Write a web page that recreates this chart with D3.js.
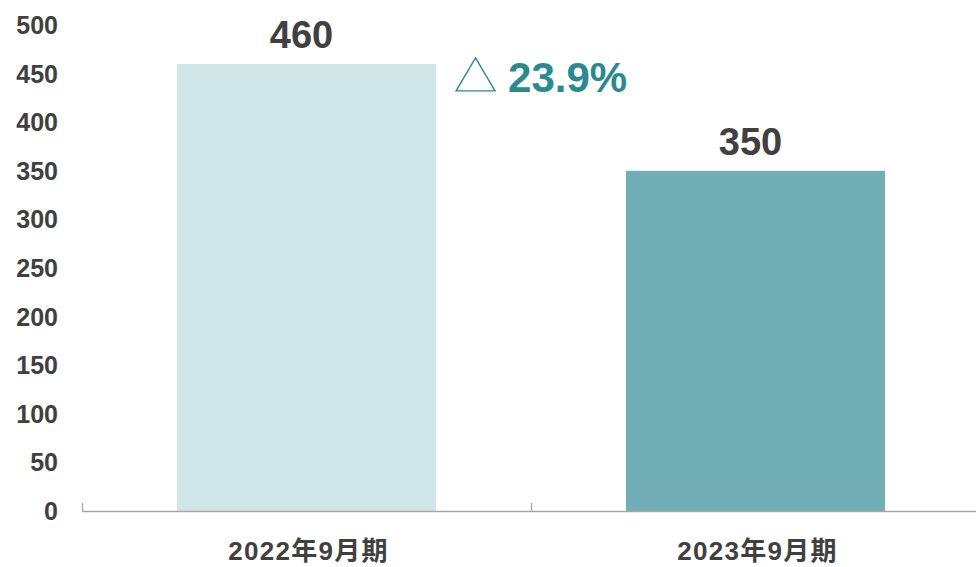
<!DOCTYPE html>
<html>
<head>
<meta charset="utf-8">
<script src="https://cdn.jsdelivr.net/npm/d3@7"></script>
<style>
  body { margin: 0; background: #fff; }
  svg { display: block; font-family: "Liberation Sans", Arial, "Noto Sans CJK JP", sans-serif; }
</style>
</head>
<body>
<div id="chart"></div>
<script>
var categories = ["2022年9月期", "2023年9月期"];
var values = [460, 350];
var barColors = ["#d1e6e8", "#72aeb5"];
var yTicks = [0, 50, 100, 150, 200, 250, 300, 350, 400, 450, 500];
var changeLabel = "23.9%";

var width = 976, height = 567;
var margin = { top: 25, right: -4, bottom: 56, left: 82 };
var innerW = width - margin.left - margin.right;
var innerH = height - margin.top - margin.bottom;

var svg = d3.select("#chart").append("svg")
  .attr("width", width)
  .attr("height", height);

var g = svg.append("g")
  .attr("transform", "translate(" + margin.left + "," + margin.top + ")");

var x = d3.scaleBand()
  .domain(categories)
  .range([0, innerW])
  .paddingInner(0.423)
  .paddingOuter(0.2115);

var xOuter = d3.scaleBand()
  .domain(categories)
  .range([0, innerW]);

var y = d3.scaleLinear()
  .domain([0, 500])
  .range([innerH, 0]);

// y tick labels (no axis line)
g.selectAll(".ylab")
  .data(yTicks)
  .enter().append("text")
  .attr("x", -24)
  .attr("y", function(d) { return y(d); })
  .attr("dy", "0.36em")
  .attr("text-anchor", "end")
  .style("font-size", "25px")
  .style("font-weight", "bold")
  .style("fill", "#404040")
  .text(function(d) { return d; });

// bars
g.selectAll(".bar")
  .data(values)
  .enter().append("rect")
  .attr("x", function(d, i) { return x(categories[i]); })
  .attr("y", function(d) { return y(d); })
  .attr("width", x.bandwidth())
  .attr("height", function(d) { return innerH - y(d); })
  .style("fill", function(d, i) { return barColors[i]; });

// x axis line and upward ticks at band boundaries
g.append("line")
  .attr("x1", 0).attr("x2", innerW + 10)
  .attr("y1", innerH + 0.5).attr("y2", innerH + 0.5)
  .style("stroke", "#a6a6a6")
  .style("stroke-width", 1.3);

g.selectAll(".xtick")
  .data(categories)
  .enter().append("line")
  .attr("x1", function(d) { return Math.round(xOuter(d)) + 0.5; })
  .attr("x2", function(d) { return Math.round(xOuter(d)) + 0.5; })
  .attr("y1", innerH - 8)
  .attr("y2", innerH)
  .style("stroke", "#a6a6a6")
  .style("stroke-width", 1.3);

// category labels
g.selectAll(".xlab")
  .data(categories)
  .enter().append("text")
  .attr("x", function(d) { return x(d) + x.bandwidth() / 2 + 2; })
  .attr("y", innerH + 49)
  .attr("text-anchor", "middle")
  .style("font-size", "26px")
  .style("letter-spacing", "1.3px")
  .style("font-weight", "bold")
  .style("fill", "#404040")
  .text(function(d) { return d; });

// value labels
g.selectAll(".vlab")
  .data(values)
  .enter().append("text")
  .attr("x", function(d, i) { return x(categories[i]) + x.bandwidth() / 2 - 5; })
  .attr("y", function(d) { return y(d) - 16; })
  .attr("text-anchor", "middle")
  .style("font-size", "38px")
  .style("font-weight", "bold")
  .style("fill", "#404040")
  .text(function(d) { return d; });

// change annotation: outlined triangle + percentage
var annX = x(categories[0]) + x.bandwidth() + 20;
var annBase = y(values[0]) + 28;
g.append("path")
  .attr("d", "M" + (annX + 19.5) + "," + (annBase - 34) + " L" + annX + "," + (annBase - 1) + " L" + (annX + 39) + "," + (annBase - 1) + " Z")
  .style("fill", "none")
  .style("stroke", "#2a8a90")
  .style("stroke-width", 1.4);

g.append("text")
  .attr("x", annX + 52)
  .attr("y", annBase)
  .style("font-size", "42px")
  .style("font-weight", "bold")
  .style("fill", "#2a8a90")
  .text(changeLabel);
</script>
</body>
</html>
